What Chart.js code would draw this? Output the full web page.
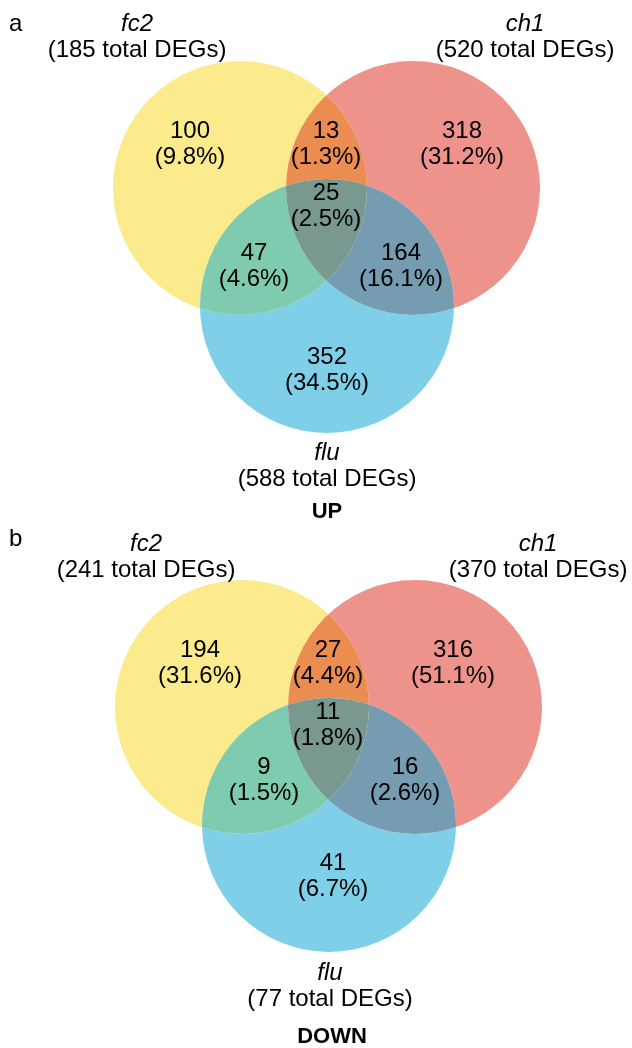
<!DOCTYPE html>
<html><head><meta charset="utf-8">
<script src="https://cdn.jsdelivr.net/npm/chart.js@4.4.0/dist/chart.umd.min.js"></script>
<style>html,body{margin:0;padding:0;background:#fff}#wrap{width:632px;height:1048px;position:relative}</style>
</head><body><div id="wrap"><canvas id="c" width="632" height="1048"></canvas></div>
<script>
// ---- data ----
const panelLetters = ['a', 'b'];
const panelTitles = ['UP', 'DOWN'];
const setNames = ['fc2', 'ch1', 'flu'];
const upTotals = [185, 520, 588];
const downTotals = [241, 370, 77];
// regions: fc2 only, ch1 only, flu only, fc2&ch1, fc2&flu, ch1&flu, all three
const regionKeys = ['100', '010', '001', '110', '101', '011', '111'];
const upCounts = [100, 318, 352, 13, 47, 164, 25];
const upPercents = [9.8, 31.2, 34.5, 1.3, 4.6, 16.1, 2.5];
const downCounts = [194, 316, 41, 27, 9, 16, 11];
const downPercents = [31.6, 51.1, 6.7, 4.4, 1.5, 2.6, 1.8];

// ---- layout (data units of the hidden axes) ----
const layout = [
  {
    centers: [[240, 188], [413, 188], [327, 306]], r: 127,
    regionPos: [[190, 144], [462, 144], [327, 370], [326, 144], [254, 266], [401, 266], [326, 206]],
    setPos: [[137, 24], [525, 24], [327, 453]],
    titlePos: [327, 512], letterPos: [9, 24]
  },
  {
    centers: [[242, 707], [415, 707], [329, 825]], r: 127,
    regionPos: [[200, 663], [453, 663], [333, 876], [328, 663], [264, 780], [405, 780], [328, 725]],
    setPos: [[146, 544], [538, 544], [330, 973]],
    titlePos: [332, 1037], letterPos: [9, 539]
  }
];
const regionColors = ['#FBEB8C', '#EE938C', '#7FCFE8', '#EB8C50', '#7FCBAF', '#759CB0', '#789890'];
const FONT = '"Liberation Sans", Arial, Helvetica, sans-serif';
const FS = 24, LH = 26;

const panels = [
  { totals: upTotals, counts: upCounts, percents: upPercents },
  { totals: downTotals, counts: downCounts, percents: downPercents }
];

const vennPlugin = {
  id: 'venn',
  beforeDatasetsDraw(chart) {
    const ctx = chart.ctx, xs = chart.scales.x, ys = chart.scales.y;
    const W = chart.width, H = chart.height;
    const px = v => xs.getPixelForValue(v), py = v => ys.getPixelForValue(v);
    layout.forEach((L, p) => {
      const cs = L.centers.map(c => [px(c[0]), py(c[1])]);
      const r = Math.abs(px(L.centers[0][0] + L.r) - px(L.centers[0][0]));
      regionKeys.forEach((key, k) => {
        ctx.save();
        for (let i = 0; i < 3; i++) {
          ctx.beginPath();
          if (key[i] === '1') {
            ctx.arc(cs[i][0], cs[i][1], r, 0, Math.PI * 2);
            ctx.clip();
          } else {
            ctx.rect(0, 0, W, H);
            ctx.arc(cs[i][0], cs[i][1], r, 0, Math.PI * 2, true);
            ctx.clip('evenodd');
          }
        }
        ctx.fillStyle = regionColors[k];
        ctx.fillRect(0, 0, W, H);
        ctx.restore();
      });
    });
  },
  afterDatasetsDraw(chart) {
    const ctx = chart.ctx, xs = chart.scales.x, ys = chart.scales.y;
    const px = v => xs.getPixelForValue(v), py = v => ys.getPixelForValue(v);
    ctx.save();
    ctx.fillStyle = '#000';
    ctx.textAlign = 'center';
    ctx.textBaseline = 'middle';
    layout.forEach((L, p) => {
      const P = panels[p];
      ctx.font = `${FS}px ${FONT}`;
      regionKeys.forEach((key, k) => {
        const x = px(L.regionPos[k][0]), y = py(L.regionPos[k][1]);
        ctx.fillText(String(P.counts[k]), x, y - LH / 2);
        ctx.fillText(`(${P.percents[k].toFixed(1)}%)`, x, y + LH / 2);
      });
      setNames.forEach((name, i) => {
        const x = px(L.setPos[i][0]), y = py(L.setPos[i][1]);
        ctx.font = `italic ${FS}px ${FONT}`;
        ctx.fillText(name, x, y);
        ctx.font = `${FS}px ${FONT}`;
        ctx.fillText(`(${P.totals[i]} total DEGs)`, x, y + LH);
      });
      ctx.font = `bold ${FS - 2}px ${FONT}`;
      ctx.fillText(panelTitles[p], px(L.titlePos[0]), py(L.titlePos[1]));
      ctx.font = `${FS}px ${FONT}`;
      ctx.textAlign = 'left';
      ctx.fillText(panelLetters[p], px(L.letterPos[0]), py(L.letterPos[1]));
      ctx.textAlign = 'center';
    });
    ctx.restore();
  }
};

new Chart(document.getElementById('c'), {
  type: 'scatter',
  data: {
    datasets: layout.map((L, p) => ({
      label: panelTitles[p],
      data: L.centers.map(c => ({ x: c[0], y: c[1] })),
      pointRadius: 0,
      pointHoverRadius: 0
    }))
  },
  options: {
    responsive: false,
    animation: false,
    events: [],
    layout: { padding: 0 },
    plugins: { legend: { display: false }, tooltip: { enabled: false } },
    scales: {
      x: { type: 'linear', min: 0, max: 632, display: false },
      y: { type: 'linear', min: 0, max: 1048, reverse: true, display: false }
    }
  },
  plugins: [vennPlugin]
});
</script></body></html>
